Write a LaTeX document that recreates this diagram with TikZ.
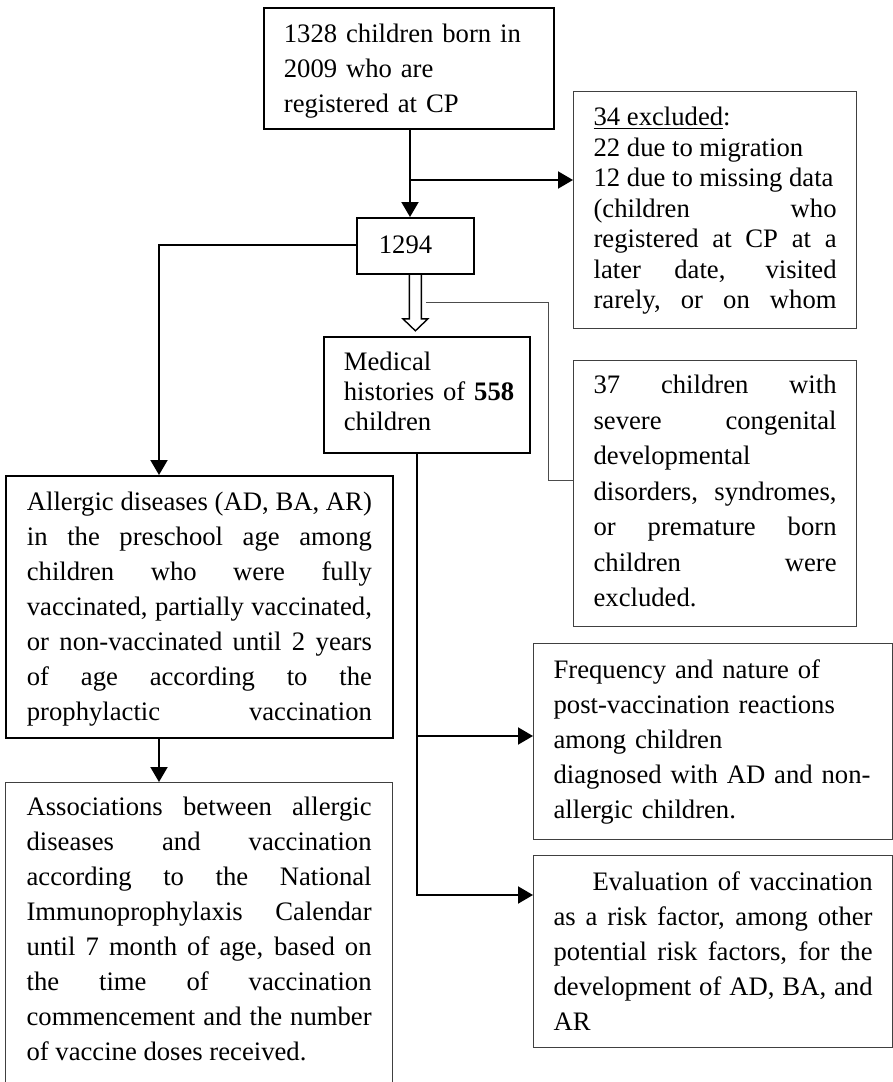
\documentclass[tikz,border=0pt]{standalone}
\usepackage{fontspec}
\setmainfont{Liberation Serif}
\usetikzlibrary{arrows.meta, calc}
\tolerance=9999
\hbadness=10000
\hfuzz=20pt
\tikzset{
  box/.style={draw=black, line width=0.9pt, anchor=north west, inner ysep=0pt, inner xsep=10pt, font={\fontsize{13.33pt}{17.5pt}\selectfont}},
  lightbox/.style={box, draw=black!75, line width=0.6pt},
  arrow/.style={line width=1pt, -{Triangle[length=7.5pt,width=8.5pt]}},
  hollow/.style={line width=0.7pt, draw=black},
  thinline/.style={line width=0.5pt, draw=black!70}
}

\begin{document}
\begin{tikzpicture}[x=0.5pt, y=-0.5pt]
  \useasboundingbox (0,0) rectangle (893,1082);
  \clip (0,0) rectangle (893,1082);

  % Cajas superiores
  \node[box, align=left, text width=125pt, text height=17.5pt, text depth=43pt] (born) at (263,7)
    {1328 children born in\\2009 who are\\registered at CP};
  \node[box, align=left, inner xsep=11pt, text width=36.5pt, text height=18pt, text depth=10pt] (n1294) at (356,217) {1294};

  % Excluidos
  \node[lightbox, align=justify, text width=121.5pt, text height=17pt, text depth=101.5pt,
        font={\fontsize{13.33pt}{15.25pt}\selectfont}] (excl) at (573,91)
    {\underline{34 excluded}:\\22 due to migration\\12 due to missing data\\(children who\linebreak
     registered at CP at a\linebreak later date, visited\linebreak rarely,\hfill or\hfill on\hfill whom};
  \node[lightbox, align=justify, text width=121.5pt, text height=16.5pt, text depth=116.5pt,
        font={\fontsize{13.33pt}{17.75pt}\selectfont}] (cong) at (573,360)
    {37 children with\linebreak severe congenital\linebreak developmental\linebreak
     disorders, syndromes,\linebreak or premature born\linebreak children were\linebreak excluded.};

  % Historias clinicas
  \node[box, align=left, text width=83pt, text height=17pt, text depth=41pt,
        font={\fontsize{13.33pt}{15pt}\selectfont}] (med) at (323,336)
    {Medical\\histories~of~\textbf{558}\\children};

  % Rama izquierda
  \node[box, align=justify, inner xsep=10.5pt, text width=172.5pt, text height=17.5pt, text depth=113.5pt] (allerg) at (5,475)
    {Allergic diseases (AD, BA, AR)\linebreak in the preschool age among\linebreak children who were fully\linebreak
     vaccinated, partially vaccinated,\linebreak or non-vaccinated until 2 years\linebreak
     of age according to the\linebreak prophylactic\hfill vaccination};
  \node[lightbox, align=justify, inner xsep=10.5pt, text width=172.5pt, text height=16.5pt, text depth=160pt] (assoc) at (5,782)
    {Associations between allergic\linebreak diseases and vaccination\linebreak according to the National\linebreak
     Immunoprophylaxis Calendar\linebreak until 7 month of age, based on\linebreak the time of vaccination\linebreak
     commencement and the number\linebreak of vaccine doses received.};

  % Rama derecha
  \node[lightbox, align=left, text width=159.5pt, text height=17.5pt, text depth=80.5pt] (freq) at (533,643)
    {Frequency and nature of\\post-vaccination reactions\\among children\\diagnosed with AD and non-\\allergic children.};
  \node[lightbox, align=justify, text width=159.5pt, text height=17.5pt, text depth=78.5pt] (evalb) at (533,855)
    {\hspace*{19.5pt}Evaluation of vaccination\linebreak as a risk factor, among other\linebreak
     potential risk factors, for the\linebreak development of AD, BA, and\linebreak AR};

  % Conexiones
  \coordinate (split) at (410,180);
  \coordinate (lbend) at (159,245);
  \coordinate (fork1) at (417,736);
  \coordinate (fork2) at (417,895);
  \coordinate (thinbend) at (548,480);

  \draw[arrow] (split |- born.south) -- (split |- n1294.north);
  \draw[arrow] (split) -- (split -| excl.west);
  \draw[arrow] (lbend -| n1294.west) -- (lbend) -- (lbend |- allerg.north);
  \draw[arrow] (lbend |- allerg.south) -- (lbend |- assoc.north);

  % Flecha hueca hacia las historias
  \draw[hollow] ($(n1294.south)+(-6,0)$) -- ++(0,44) -- ++(-6.5,0) -- ++(12.5,12)
    -- ++(12.5,-12) -- ++(-6.5,0) -- ++(0,-44);
  \draw[thinline] ($(n1294.south)+(10.5,28)$) -| (thinbend) -- (thinbend -| cong.west);

  \draw[arrow] (fork1 |- med.south) -- (fork2) -- (fork2 -| evalb.west);
  \draw[arrow] (fork1) -- (fork1 -| freq.west);
\end{tikzpicture}
\end{document}
